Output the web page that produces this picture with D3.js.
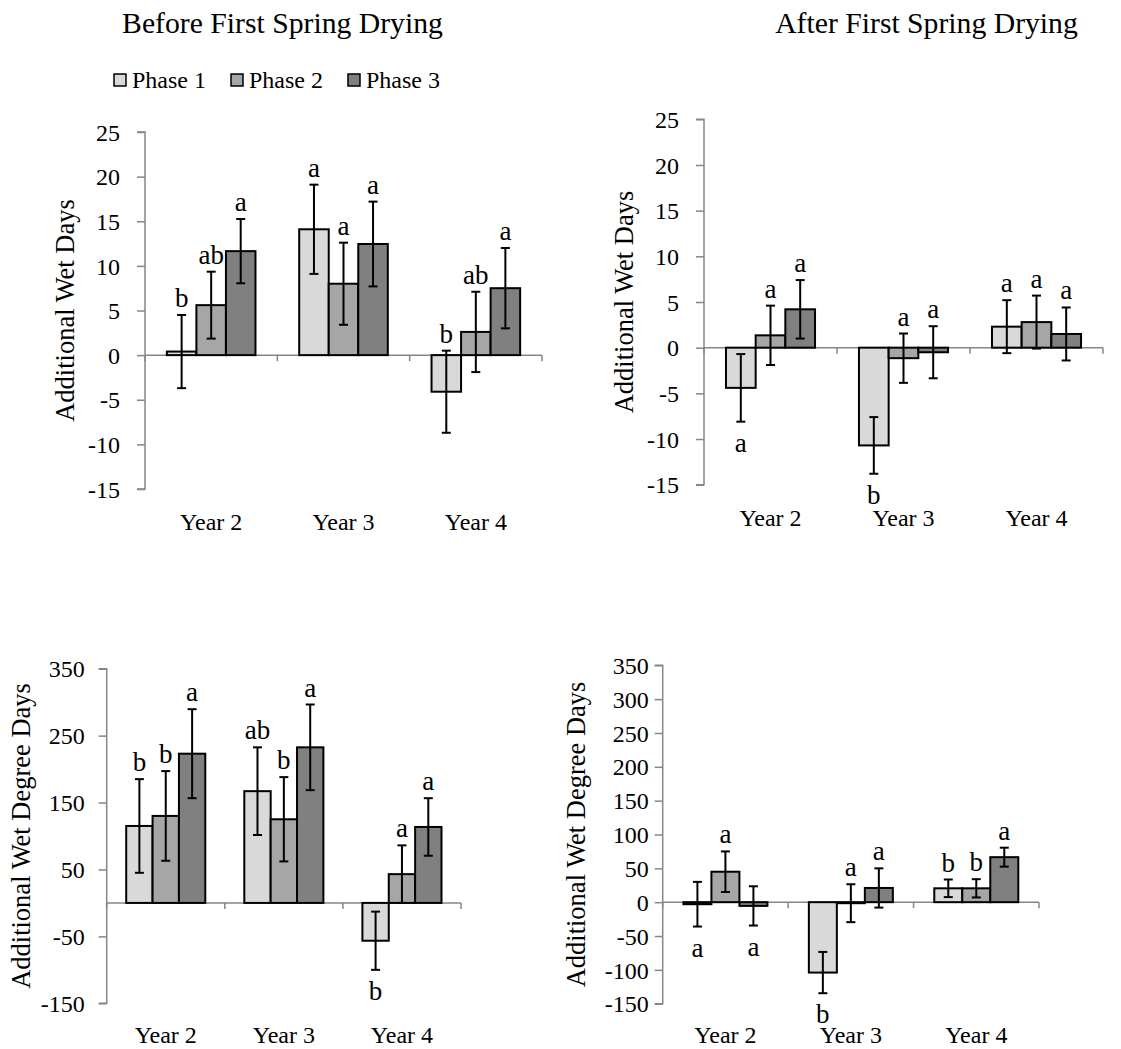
<!DOCTYPE html>
<html>
<head>
<meta charset="utf-8">
<script src="https://cdn.jsdelivr.net/npm/d3@7"></script>
<style>
  html, body { margin: 0; padding: 0; background: #fff; }
  svg { display: block; }
  text { font-family: "Liberation Serif", "Times New Roman", serif; fill: #000; }
</style>
</head>
<body>
<svg id="chart" width="1121" height="1049"></svg>
<script>
// ---------------- DATA ----------------
const years = ["Year 2", "Year 3", "Year 4"];
const phases = ["Phase 1", "Phase 2", "Phase 3"];
const phaseColors = ["#d9d9d9", "#a6a6a6", "#808080"];

const panelTitles = ["Before First Spring Drying", "After First Spring Drying"];
const wetDaysLabel = "Additional Wet Days";
const degreeDaysLabel = "Additional Wet Degree Days";

// rows = years, columns = phases
// Wet days, before first spring drying
const wdBeforeMean = [[0.4, 5.6, 11.65], [14.1, 8.0, 12.45], [-4.1, 2.6, 7.5]];
const wdBeforeErr = [[4.1, 3.75, 3.6], [5.0, 4.6, 4.75], [4.6, 4.5, 4.5]];
const wdBeforeLetters = [["b", "ab", "a"], ["a", "a", "a"], ["b", "ab", "a"]];
const wdBeforeLetterBelow = [[0, 0, 0], [0, 0, 0], [0, 0, 0]];

// Wet days, after first spring drying
const wdAfterMean = [[-4.4, 1.35, 4.2], [-10.7, -1.15, -0.5], [2.3, 2.8, 1.5]];
const wdAfterErr = [[3.7, 3.25, 3.2], [3.1, 2.7, 2.85], [2.9, 2.9, 2.9]];
const wdAfterLetters = [["a", "a", "a"], ["b", "a", "a"], ["a", "a", "a"]];
const wdAfterLetterBelow = [[1, 0, 0], [1, 0, 0], [0, 0, 0]];

// Wet degree days, before first spring drying
const wddBeforeMean = [[115, 130, 223], [167, 125, 232.5], [-56.5, 43, 113.5]];
const wddBeforeErr = [[70, 67, 66.5], [65.5, 63, 64], [43.5, 43, 43]];
const wddBeforeLetters = [["b", "b", "a"], ["ab", "b", "a"], ["b", "a", "a"]];
const wddBeforeLetterBelow = [[0, 0, 0], [0, 0, 0], [1, 0, 0]];

// Wet degree days, after first spring drying
const wddAfterMean = [[-3, 45, -5.5], [-104, -1.5, 21], [20.5, 20.5, 66.5]];
const wddAfterErr = [[33, 30, 29], [30.5, 28, 29], [13, 13.5, 14]];
const wddAfterLetters = [["a", "a", "a"], ["b", "a", "a"], ["b", "b", "a"]];
const wddAfterLetterBelow = [[1, 0, 1], [1, 0, 0], [0, 0, 0]];

// Tick values
const wdTicks = [-15, -10, -5, 0, 5, 10, 15, 20, 25];
const wddBeforeTicks = [-150, -50, 50, 150, 250, 350];
const wddAfterTicks = [-150, -100, -50, 0, 50, 100, 150, 200, 250, 300, 350];

// ---------------- DRAWING ----------------
const svg = d3.select("#chart");
const axisColor = "#868686";
const serif = '"Liberation Serif", "Times New Roman", serif';

function drawPanel(cfg) {
  const g = svg.append("g");
  const y = d3.scaleLinear().domain(cfg.domain).range([cfg.yBot, cfg.yTop]);
  const x = d3.scaleBand().domain(years).range([cfg.x0, cfg.x1]).paddingInner(0).paddingOuter(0);
  const xp = d3.scaleBand().domain(phases).range([0, x.bandwidth()]).paddingInner(0).paddingOuter(0.74);

  // y axis
  const yAxis = d3.axisLeft(y).tickValues(cfg.ticks).tickSize(8).tickPadding(cfg.labelGap - 8)
    .tickFormat(d => String(d).replace("\u2212", "-"));
  const ya = g.append("g").attr("transform", `translate(${cfg.x0},0)`).call(yAxis)
    .attr("font-family", serif).attr("font-size", 24);
  ya.select(".domain").attr("stroke", axisColor).attr("stroke-width", 1.5).attr("d", `M-8,${cfg.yTop}H0V${cfg.yBot}H-8`);
  ya.selectAll(".tick line").attr("stroke", axisColor).attr("stroke-width", 1.5);
  ya.selectAll(".tick text").style("font-size", "24px").style("font-family", serif).attr("fill", "#000").attr("dy", "0.34em");

  // x axis (at zero)
  const y0 = y(0);
  g.append("line").attr("x1", cfg.x0).attr("x2", cfg.x1).attr("y1", y0).attr("y2", y0)
    .attr("stroke", axisColor).attr("stroke-width", 1.5);
  const bounds = years.map(d => x(d)).concat([cfg.x1]);
  g.selectAll(".xtick").data(bounds).enter().append("line")
    .attr("x1", d => d).attr("x2", d => d).attr("y1", y0).attr("y2", y0 + 6)
    .attr("stroke", axisColor).attr("stroke-width", 1.5);

  // year labels
  g.selectAll(".ylab").data(years).enter().append("text")
    .attr("x", d => x(d) + x.bandwidth() / 2).attr("y", cfg.xLabelY)
    .attr("text-anchor", "middle").style("font-size", "24px").text(d => d);

  // flatten data
  const rows = [];
  years.forEach((yr, i) => phases.forEach((ph, j) => {
    rows.push({ yr, ph, j, v: cfg.mean[i][j], e: cfg.err[i][j], l: cfg.letters[i][j], below: cfg.below[i][j] });
  }));

  // bars
  g.selectAll(".bar").data(rows).enter().append("rect")
    .attr("x", d => x(d.yr) + xp(d.ph))
    .attr("width", xp.bandwidth())
    .attr("y", d => Math.min(y(d.v), y0))
    .attr("height", d => Math.abs(y(d.v) - y0))
    .attr("fill", d => phaseColors[d.j])
    .attr("stroke", "#000").attr("stroke-width", 2);

  // error bars
  const eb = g.selectAll(".err").data(rows).enter().append("g");
  const cx = d => x(d.yr) + xp(d.ph) + xp.bandwidth() / 2;
  eb.append("line").attr("x1", cx).attr("x2", cx)
    .attr("y1", d => y(d.v + d.e)).attr("y2", d => y(d.v - d.e))
    .attr("stroke", "#000").attr("stroke-width", 2);
  eb.append("line").attr("x1", d => cx(d) - 4.5).attr("x2", d => cx(d) + 4.5)
    .attr("y1", d => y(d.v + d.e)).attr("y2", d => y(d.v + d.e))
    .attr("stroke", "#000").attr("stroke-width", 2);
  eb.append("line").attr("x1", d => cx(d) - 4.5).attr("x2", d => cx(d) + 4.5)
    .attr("y1", d => y(d.v - d.e)).attr("y2", d => y(d.v - d.e))
    .attr("stroke", "#000").attr("stroke-width", 2);

  // letters
  g.selectAll(".letter").data(rows).enter().append("text")
    .attr("x", cx)
    .attr("y", d => d.below ? y(d.v - d.e) + 30 : y(d.v + d.e) - 8)
    .attr("text-anchor", "middle").style("font-size", "27px").text(d => d.l);

  // y title
  g.append("text")
    .attr("transform", `translate(${cfg.yTitleX},${(cfg.yTop + cfg.yBot) / 2}) rotate(-90)`)
    .attr("text-anchor", "middle").attr("dominant-baseline", "central")
    .style("font-size", "26.5px").text(cfg.yTitle);
}

// Titles
svg.append("text").attr("x", 282.5).attr("y", 33).attr("text-anchor", "middle")
  .style("font-size", "29.7px").text(panelTitles[0]);
svg.append("text").attr("x", 926.5).attr("y", 33).attr("text-anchor", "middle")
  .style("font-size", "29.7px").text(panelTitles[1]);

// Legend
const legendX = [114, 231, 348];
const lg = svg.append("g").selectAll("g").data(phases).enter().append("g")
  .attr("transform", (d, i) => `translate(${legendX[i]},74)`);
lg.append("rect").attr("width", 12).attr("height", 12)
  .attr("fill", (d, i) => phaseColors[i]).attr("stroke", "#000").attr("stroke-width", 1.5);
lg.append("text").attr("x", 18).attr("y", 14.3).style("font-size", "24px").text(d => d);

drawPanel({ x0: 145, x1: 542, yTop: 132, yBot: 489, domain: [-15, 25], ticks: wdTicks, labelGap: 25,
  xLabelY: 530, yTitleX: 65, yTitle: wetDaysLabel,
  mean: wdBeforeMean, err: wdBeforeErr, letters: wdBeforeLetters, below: wdBeforeLetterBelow });
drawPanel({ x0: 704, x1: 1103, yTop: 119.3, yBot: 484.7, domain: [-15, 25], ticks: wdTicks, labelGap: 25,
  xLabelY: 526, yTitleX: 624, yTitle: wetDaysLabel,
  mean: wdAfterMean, err: wdAfterErr, letters: wdAfterLetters, below: wdAfterLetterBelow });
drawPanel({ x0: 106.7, x1: 461, yTop: 668.7, yBot: 1003.3, domain: [-150, 350], ticks: wddBeforeTicks, labelGap: 22,
  xLabelY: 1043, yTitleX: 21, yTitle: degreeDaysLabel,
  mean: wddBeforeMean, err: wddBeforeErr, letters: wddBeforeLetters, below: wddBeforeLetterBelow });
drawPanel({ x0: 662.7, x1: 1039, yTop: 665.3, yBot: 1003.7, domain: [-150, 350], ticks: wddAfterTicks, labelGap: 14,
  xLabelY: 1043, yTitleX: 576, yTitle: degreeDaysLabel,
  mean: wddAfterMean, err: wddAfterErr, letters: wddAfterLetters, below: wddAfterLetterBelow });
</script>
</body>
</html>
